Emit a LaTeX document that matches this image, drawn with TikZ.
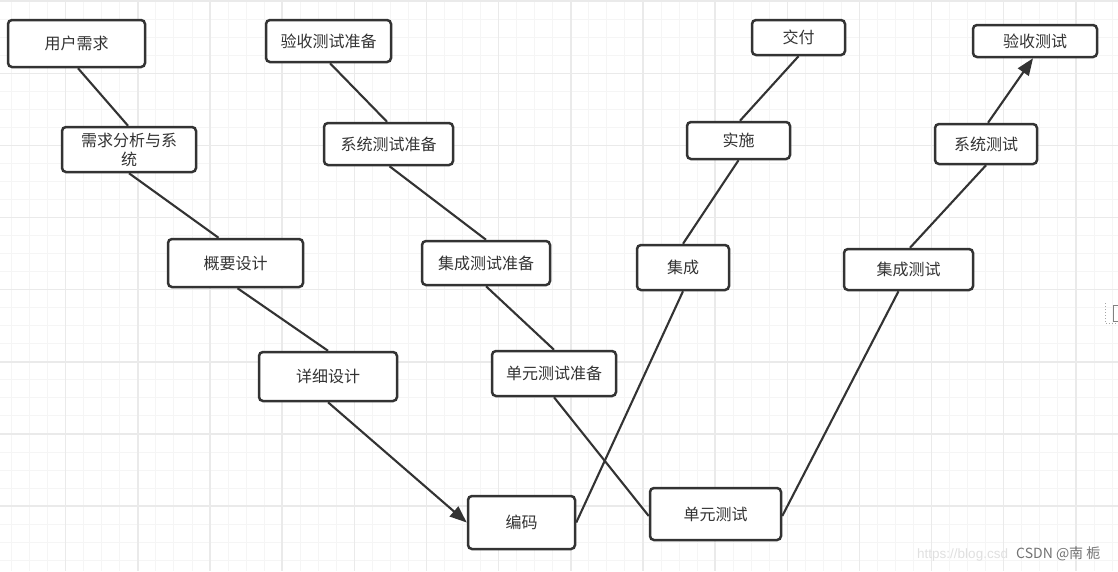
\documentclass[tikz,border=0pt]{standalone}
\usepackage{fontspec}
\newfontfamily\cjk{Noto Sans CJK SC}
\newfontfamily\lat{Liberation Sans}
\usetikzlibrary{arrows.meta}
\definecolor{ink}{HTML}{333333}
\definecolor{txt}{HTML}{333333}
\definecolor{gminor}{HTML}{F5F5F5}
\definecolor{gmajor}{HTML}{EAEAEA}
\tikzset{
  box/.style={draw=ink, line width=2.5pt, rounded corners=4pt, fill=white,
    inner sep=0pt, text=txt, font=\cjk\fontsize{16}{19}\selectfont, align=center},
  link/.style={draw=ink, line width=2.1pt},
  arr/.style={link, -{Triangle[length=17pt,width=13pt]}},
  gminorline/.style={draw=gminor, line width=1pt},
  gmajorline/.style={draw=gmajor, line width=1.4pt},
}
\begin{document}
\begin{tikzpicture}[x=1pt, y=-1pt]
\useasboundingbox (0,0) rectangle (1118,571);
\clip (0,0) rectangle (1118,571);
\fill[white] (0,0) rectangle (1118,571);
% grid
\foreach \i in {0,...,63} {\draw[gminorline] ({-6.44+18.04*\i},0) -- ({-6.44+18.04*\i},571);}
\foreach \i in {0,...,32} {\draw[gminorline] (0,{1.04+18.04*\i}) -- (1118,{1.04+18.04*\i});}
\foreach \i in {-1,...,15} {\draw[gmajorline] ({65.7+72.16*\i},0) -- ({65.7+72.16*\i},571);}
\foreach \i in {0,...,8} {\draw[gmajorline] (0,{1.04+72.16*\i}) -- (1118,{1.04+72.16*\i});}

% nodes
\node[box, minimum width=137pt, minimum height=47pt] (n1) at (76.5,43.5) {用户需求};
\node[box, minimum width=134pt, minimum height=45pt] (n2) at (129,149.5) {需求分析与系\\统};
\node[box, minimum width=135pt, minimum height=48pt] (n3) at (235.5,263) {概要设计};
\node[box, minimum width=138pt, minimum height=49pt] (n4) at (328,376.5) {详细设计};
\node[box, minimum width=107pt, minimum height=53pt] (n5) at (521.5,522.5) {编码};
\node[box, minimum width=125pt, minimum height=42pt] (n6) at (328.5,41) {验收测试准备};
\node[box, minimum width=129pt, minimum height=42pt] (n7) at (388.5,144) {系统测试准备};
\node[box, minimum width=128pt, minimum height=44pt] (n8) at (486,263) {集成测试准备};
\node[box, minimum width=124pt, minimum height=45pt] (n9) at (554,373.5) {单元测试准备};
\node[box, minimum width=131pt, minimum height=52pt] (n10) at (715.5,514) {单元测试};
\node[box, minimum width=129pt, minimum height=41pt] (n11) at (908.5,269.5) {集成测试};
\node[box, minimum width=102pt, minimum height=40pt] (n12) at (986,144) {系统测试};
\node[box, minimum width=124pt, minimum height=32pt] (n13) at (1035,41) {验收测试};
\node[box, minimum width=93pt, minimum height=35pt] (n14) at (798.5,37.5) {交付};
\node[box, minimum width=103pt, minimum height=37pt] (n15) at (738.5,140.5) {实施};
\node[box, minimum width=92pt, minimum height=45pt] (n16) at (683,267.5) {集成};

% connectors
\draw[link] ([xshift=1.5pt]n1.south) -- ([xshift=-1pt]n2.north);
\draw[link] (n2.south) -- ([xshift=-17pt]n3.north);
\draw[link] ([xshift=2pt]n3.south) -- (n4.north);
\draw[arr] (n4.south) -- (n5.west);
\draw[link] ([xshift=1.5pt]n6.south) -- ([xshift=-1.5pt]n7.north);
\draw[link] ([xshift=1pt]n7.south) -- (n8.north);
\draw[link] (n8.south) -- (n9.north);
\draw[link] (n9.south) -- ([yshift=-2pt]n10.west);
\draw[link] (n5.east) -- (n16.south);
\draw[link] (n16.north) -- (n15.south);
\draw[link] ([xshift=1.5pt]n15.north) -- (n14.south);
\draw[link] ([yshift=-2pt]n10.east) -- ([xshift=-10pt]n11.south);
\draw[link] ([xshift=1.5pt]n11.north) -- (n12.south);
\draw[arr] ([xshift=2pt]n12.north) -- ([xshift=-2pt]n13.south);

% cut-off element at right edge
\draw[gray!70, dotted, line width=1pt] (1105,303) -- (1105,323) -- (1118,323);
\draw[gray, line width=0.8pt] (1113,305) rectangle (1122,321);

% watermark
\node[anchor=base west, inner sep=0pt, text=black!12, font=\lat\fontsize{13.5}{16}\selectfont] (wm1) at (917,558) {https://blog.csd};
\node[anchor=base west, inner sep=0pt, text=black!55, font=\cjk\fontsize{14}{16}\selectfont] (wm2) at (1016,558) {CSDN @南 栀};
\end{tikzpicture}
\end{document}
